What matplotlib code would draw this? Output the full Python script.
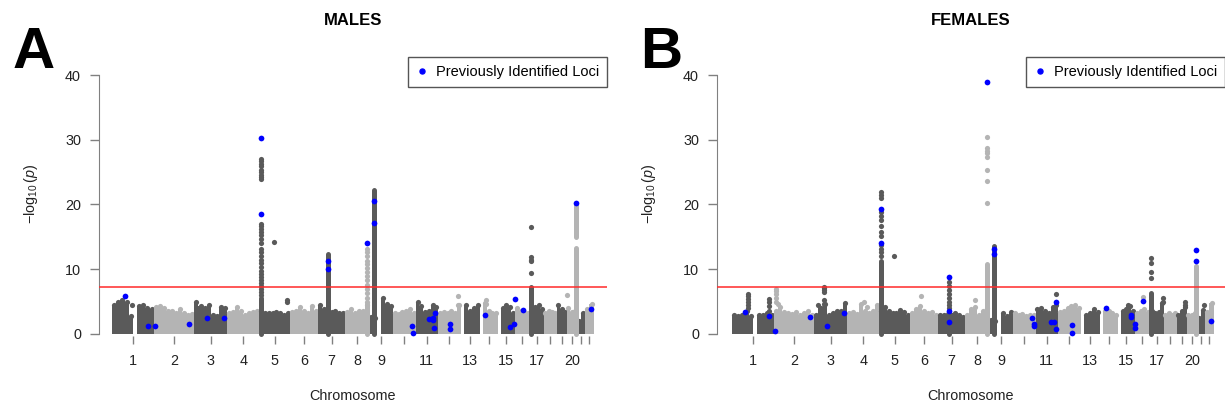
import numpy as np
import matplotlib.pyplot as plt
from matplotlib.lines import Line2D

plt.rcParams['font.family'] = 'Liberation Sans'
plt.rcParams['mathtext.fontset'] = 'custom'
plt.rcParams['mathtext.rm'] = 'Liberation Sans'
plt.rcParams['mathtext.it'] = 'Liberation Sans:italic'

# chromosome lengths (Mb) and which ones get a label
chrom_len = [249.3, 243.2, 198.0, 191.2, 180.9, 171.1, 159.1, 146.4, 141.2, 135.5, 135.0,
             133.9, 115.2, 107.3, 102.5, 90.4, 81.2, 78.1, 59.1, 63.0, 48.1, 51.3]
tick_labels = ['1', '2', '3', '4', '5', '6', '7', '8', '9', '', '11', '', '13', '', '15', '',
               '17', '', '', '20', '', '']
gw_line = 7.3

# upper edge of the dense band of -log10(p), evenly spaced along each chromosome
males_band = [
    [4.4, 5.0, 5.3, 4.9, 2.8, 0, 4.3, 4.4, 4.0, 3.9],
    [4.2, 4.3, 4.0, 3.6, 3.5, 3.3, 3.9, 3.2, 3.0, 3.1],
    [5.0, 4.3, 4.0, 4.4, 3.0, 2.8, 4.2, 4.0],
    [3.2, 3.4, 4.1, 3.6, 3.0, 3.2, 3.4, 3.6],
    [3.5, 3.3, 3.2, 3.3, 3.4, 3.2, 3.0, 3.3],
    [3.4, 3.6, 4.1, 3.5, 3.3, 4.3, 3.6],
    [4.5, 3.8, 3.6, 3.4, 3.5, 3.3, 3.3],
    [3.4, 3.8, 3.3, 3.5, 3.6, 4.5],
    [2.6, 2.4, 0, 5.6, 4.6, 4.3],
    [3.3, 3.1, 3.4, 3.6, 3.8, 3.3],
    [5.0, 4.3, 3.4, 3.6, 4.4, 4.2],
    [3.2, 3.4, 3.2, 3.5, 3.3, 4.4],
    [0, 4.5, 3.5, 4.0, 4.5],
    [0, 4.8, 3.5, 3.2, 3.3],
    [0, 4.0, 4.4, 4.2, 3.3],
    [4.0, 3.6, 3.4, 3.3],
    [3.6, 4.2, 4.4, 3.8],
    [3.3, 3.6, 3.4, 3.2],
    [4.4, 3.8, 3.4],
    [4.0, 3.4, 3.6],
    [2.0, 3.2],
    [3.8, 4.6],
]
females_band = [
    [2.9, 2.8, 3.0, 3.5, 2.8, 0, 3.0, 2.9, 3.3, 3.0],
    [3.6, 4.2, 3.4, 3.3, 3.1, 3.4, 3.0, 3.2, 3.5, 3.0],
    [2.9, 4.0, 4.6, 3.0, 3.3, 3.5, 3.6, 4.8],
    [3.2, 3.4, 3.1, 4.6, 3.5, 3.2, 3.6, 4.4],
    [3.5, 4.2, 3.6, 3.2, 3.3, 3.7, 3.4, 3.0],
    [3.3, 3.8, 4.3, 3.5, 3.2, 3.4, 3.0],
    [3.0, 2.9, 3.1, 3.0, 3.2, 2.9, 2.6],
    [3.0, 3.8, 4.2, 3.0, 3.5, 4.0],
    [2.2, 2.0, 0, 3.2, 2.7, 3.4],
    [3.3, 3.0, 3.1, 2.8, 3.0, 3.0],
    [3.8, 4.0, 3.6, 3.2, 4.2, 4.4],
    [3.4, 3.6, 4.0, 4.3, 4.4, 4.0],
    [0, 3.0, 3.2, 3.8, 3.4],
    [0, 3.6, 3.5, 3.2, 3.0],
    [0, 3.5, 3.8, 4.3, 3.6],
    [3.2, 3.5, 3.8, 3.4],
    [3.6, 3.3, 3.4, 4.8],
    [3.0, 3.2, 3.0, 3.3],
    [3.0, 3.6, 4.2],
    [2.9, 3.0, 3.2],
    [2.4, 3.7],
    [3.4, 4.8],
]

# solid runs of SNPs at peaks: (chr, pos Mb, from, to)
males_runs = [(5, 11, 0, 5.5), (7, 61, 0, 12.4), (8, 131, 0, 4.6), (9, 25, 0, 22.2),
              (17, 6, 0, 7.3), (20, 56, 0, 13.3), (20, 56, 15.0, 20.1)]
females_runs = [(5, 11, 0, 11.2), (7, 65, 0, 3.2), (8, 135, 0, 10.8), (9, 27, 0, 13.6),
                (17, 6, 0, 6.3), (20, 58, 0, 10.5)]

# single SNPs standing out of the band: (chr, pos Mb, values)
males_snps = [
    (1, 118, [4.4]),
    (5, 11, [6.0, 6.5, 7.0, 7.4, 7.8, 8.3, 8.8, 9.2, 9.8, 10.3, 10.9, 11.5, 12.0, 12.6, 13.2,
             14.0, 14.6, 15.3, 15.8, 16.2, 16.7, 17.0, 23.9, 24.2, 24.6, 25.0, 25.4, 25.9,
             26.3, 26.7, 27.0]),
    (5, 89, [14.2]), (5, 163, [5.2]), (5, 166, [4.9]),
    (8, 131, [5.0, 5.6, 6.3, 7.0, 7.6, 8.3, 9.0, 9.6, 10.2, 10.8, 11.3, 12.0, 12.6, 13.2]),
    (12, 119, [5.9, 4.5]), (14, 35, [5.3, 4.7]),
    (17, 6, [9.4, 11.2, 11.5, 11.9, 16.5]),
    (20, 0, [6.0]),
]
females_snps = [
    (1, 94, [4.0, 4.4, 5.0, 5.4, 5.8, 6.2]), (1, 219, [3.6, 4.3, 4.9, 5.4]),
    (2, 11, [5.0, 5.6, 6.2, 6.7, 7.0]), (2, 24, [4.6]),
    (3, 23, [4.4]), (3, 59, [4.6, 5.3, 6.5, 6.8, 7.1, 7.3]),
    (4, 100, [5.0]), (4, 118, [4.2]),
    (5, 11, [12.0, 12.6, 13.2, 13.7, 15.2, 15.8, 16.6, 17.6, 18.2, 18.8, 21.0, 21.5, 22.0]),
    (5, 89, [12.1]), (6, 69, [5.8]),
    (7, 65, [4.0, 4.5, 5.0, 5.6, 6.2, 6.8, 7.4, 8.0]),
    (8, 62, [5.2]), (8, 135, [20.3, 23.6, 25.4, 27.4, 27.9, 28.3, 28.8, 30.5]),
    (11, 123, [6.2]), (15, 60, [4.2, 4.5]), (16, 51, [5.7]),
    (17, 6, [8.6, 9.6, 10.9, 11.8]), (17, 80, [5.0, 5.5]),
    (19, 52, [4.4, 4.9]), (21, 40, [4.4]),
]

# previously identified loci (blue)
males_known = [
    (1, 76, [5.8]), (1, 215, [1.3]), (2, 6, [1.3]), (2, 213, [1.5]), (3, 73, [2.4]),
    (3, 177, [2.5]), (5, 11, [18.6, 30.2]), (7, 61, [11.3, 10.1]), (8, 131, [14.0]),
    (9, 25, [20.5, 17.2]), (10, 111, [1.3]), (10, 121, [0.2]), (11, 81, [2.3]),
    (11, 101, [2.1, 2.4]), (11, 116, [3.3]), (11, 112, [0.9]), (12, 71, [1.6, 0.8]),
    (14, 31, [3.0]), (15, 74, [1.0]), (15, 98, [1.6]), (16, 1, [5.4]), (16, 48, [3.7]),
    (20, 56, [20.3]), (22, 34, [3.8]),
]
females_known = [
    (1, 80, [3.4]), (1, 219, [2.7]), (2, 8, [0.5]), (2, 219, [2.6]), (3, 75, [1.3]),
    (3, 178, [3.2]), (5, 11, [19.3, 14.1]), (7, 65, [8.75, 3.5, 1.8]), (8, 135, [38.9]),
    (9, 27, [13.2, 12.4]), (10, 115, [2.4]), (10, 123, [1.3, 1.6]), (11, 93, [1.9]),
    (11, 107, [1.9]), (11, 119, [0.8]), (11, 123, [5.0]), (12, 81, [1.4, 0.2]),
    (14, 35, [4.0]), (15, 80, [2.9, 2.6]), (16, 3, [1.5, 0.9]), (16, 51, [5.1]),
    (20, 58, [12.9, 11.3]), (22, 37, [2.0]),
]

DARK = '#5a5a5a'
LIGHT = '#b4b4b4'
offsets = np.concatenate([[0], np.cumsum(chrom_len)[:-1]])
centers = offsets + np.array(chrom_len) / 2
W, H = 1225, 409


def shade(c):
    return DARK if c % 2 else LIGHT


def gpos(c, p):
    return offsets[c - 1] + p


def rect(left, top, w, h):
    return [left / W, 1 - (top + h) / H, w / W, h / H]


def manhattan(ax, band, runs, snps, known, title, xlim, legend_top):
    for i, h in enumerate(band):
        c = i + 1
        h = np.asarray(h, float)
        edges = offsets[i] + np.linspace(0, chrom_len[i], len(h) + 1)
        ax.stairs(h, edges, fill=True, color=shade(c), lw=0, zorder=1)
        mid = (edges[:-1] + edges[1:]) / 2
        ok = h > 0
        ax.scatter(mid[ok], h[ok], s=14, color=shade(c), lw=0, zorder=1)
    for c, p, lo, hi in runs:
        lc = ax.vlines(gpos(c, p), lo, hi, colors=shade(c), lw=3.6, zorder=2)
        lc.set_capstyle('round')
    for c, p, vals in snps:
        ax.scatter([gpos(c, p)] * len(vals), vals, s=14, color=shade(c), lw=0, zorder=2)
    ax.axhline(gw_line, color='#ff2a2a', lw=1.1, zorder=3)
    for c, p, vals in known:
        ax.scatter([gpos(c, p)] * len(vals), vals, s=17, color='#0000ff', lw=0, zorder=4)

    ax.set_xlim(*xlim)
    ax.set_ylim(-1.55, 41.5)
    for side in ['top', 'right', 'bottom']:
        ax.spines[side].set_visible(False)
    ax.spines['left'].set_bounds(0, 40)
    ax.spines['left'].set_color('#808080')
    ax.set_yticks([0, 10, 20, 30, 40])
    ax.set_xticks(centers, tick_labels)
    ax.tick_params(axis='x', direction='in', length=6, width=1, color='#808080',
                   pad=7.5, labelsize=10.4, labelcolor='#222222')
    ax.tick_params(axis='y', direction='out', length=6.5, width=1, color='#808080',
                   pad=6.5, labelsize=10.4, labelcolor='#222222')
    ax.set_xlabel('Chromosome', fontsize=10.4, color='#222222')
    ax.xaxis.set_label_coords(0.5, -0.163)
    ax.set_ylabel(r'$-\log_{10}(\mathit{p})$', fontsize=10.4, color='#222222')
    ax.yaxis.set_label_coords(-0.117, 0.54)
    ax.set_title(title, fontsize=12, weight='bold', y=1.1625, va='center', pad=0)

    handle = Line2D([], [], marker='o', ls='', color='#0000ff', markersize=3.6)
    leg = ax.legend([handle], ['Previously Identified Loci'], loc='upper right',
                    bbox_to_anchor=(1.0, legend_top), bbox_transform=ax.transAxes,
                    borderaxespad=0, fancybox=False, fontsize=10.5, handlelength=0.8,
                    handletextpad=0.57, borderpad=0.55, framealpha=1)
    leg.get_frame().set_edgecolor('#555555')
    leg.get_frame().set_linewidth(1.0)


fig = plt.figure(figsize=(W / 100, H / 100), dpi=100)
ax_m = fig.add_axes(rect(99, 65.3, 508, 278.7))
ax_f = fig.add_axes(rect(717, 65.3, 508, 278.7))

legend_top = (344 - 57) / 278.7
manhattan(ax_m, males_band, males_runs, males_snps, males_known, 'MALES',
          (-77.8, 2960.5), legend_top)
manhattan(ax_f, females_band, females_runs, females_snps, females_known, 'FEMALES',
          (-89.7, 2948.6), legend_top)

fig.text(13 / W, 1 - 68 / H, 'A', fontsize=42, weight='bold', va='baseline', ha='left')
fig.text(640 / W, 1 - 68 / H, 'B', fontsize=42, weight='bold', va='baseline', ha='left')

fig.savefig('out.png', dpi=100)
